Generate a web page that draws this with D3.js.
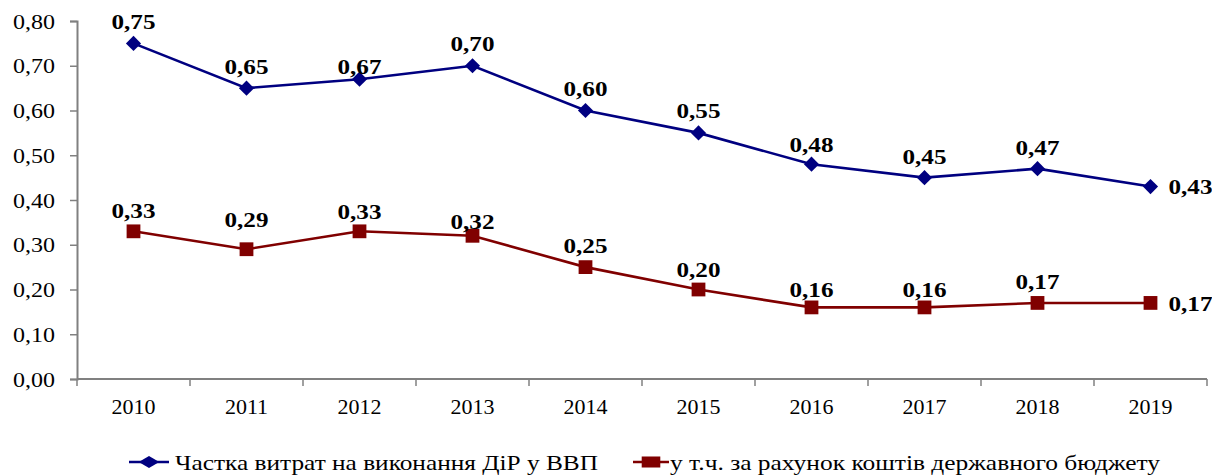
<!DOCTYPE html>
<html>
<head>
<meta charset="utf-8">
<script src="https://cdn.jsdelivr.net/npm/d3@7"></script>
<style>
  body { margin: 0; background: #fff; }
  svg text { font-family: "Liberation Serif", "Times New Roman", serif; }
</style>
</head>
<body>
<script>
// Data
const years = ['2010', '2011', '2012', '2013', '2014', '2015', '2016', '2017', '2018', '2019'];
const gdpShare = [0.75, 0.65, 0.67, 0.70, 0.60, 0.55, 0.48, 0.45, 0.47, 0.43];
const budgetShare = [0.33, 0.29, 0.33, 0.32, 0.25, 0.20, 0.16, 0.16, 0.17, 0.17];
const yTicks = [0, 0.1, 0.2, 0.3, 0.4, 0.5, 0.6, 0.7, 0.8];
const seriesNames = ['Частка витрат на виконання ДіР у ВВП', 'у т.ч. за рахунок коштів державного бюджету'];

// label offsets above points (as placed in the original)
const gdpLabelDy = [-22, -22, -13, -22, -22, -23, -20, -21, -21, 0];
const budgetLabelDy = [-21, -30, -20, -15, -22, -20, -18, -18, -22, 0];

const width = 1212;
const height = 475;
const margin = { top: 21, right: 5, bottom: 96, left: 77 };
const innerWidth = width - margin.left - margin.right;
const innerHeight = height - margin.top - margin.bottom;

const fmt = v => v.toFixed(2).replace('.', ',');

const svg = d3.select('body')
    .append('svg')
    .attr('width', width)
    .attr('height', height);

const g = svg.append('g')
    .attr('transform', `translate(${margin.left}, ${margin.top})`);

// Scales
const xScale = d3.scaleBand()
    .domain(years)
    .range([0, innerWidth]);

const yScale = d3.scaleLinear()
    .domain([0, 0.8])
    .range([innerHeight, 0]);

// Axes
const yAxis = g.append('g')
    .call(d3.axisLeft(yScale).tickValues(yTicks).tickFormat(fmt).tickSize(7).tickPadding(15));
yAxis.selectAll('text')
    .style('font-size', '22px')
    .attr('fill', '#000')
    .attr('textLength', 42)
    .attr('lengthAdjust', 'spacingAndGlyphs');

const xAxis = g.append('g')
    .attr('transform', `translate(0, ${innerHeight})`)
    .call(d3.axisBottom(xScale).tickSize(0).tickPadding(28));
xAxis.selectAll('text')
    .style('font-size', '22px')
    .attr('fill', '#000')
    .attr('dy', '0.3em')
    .attr('y', 28);

// Category boundary ticks on the x axis
xAxis.selectAll('line.bound')
    .data(years.concat(['end']))
    .enter()
    .append('line')
    .attr('class', 'bound')
    .attr('x1', (d, i) => i * xScale.step())
    .attr('x2', (d, i) => i * xScale.step())
    .attr('y1', 0)
    .attr('y2', 7)
    .attr('stroke', '#808080')
    .attr('stroke-width', 1.5);

svg.selectAll('.domain').attr('stroke', '#808080').attr('stroke-width', 2);
svg.selectAll('.tick line').attr('stroke', '#808080').attr('stroke-width', 1.5);
xAxis.select('.domain').attr('d', `M0,0H${innerWidth}`);

const cx = d => xScale(d) + xScale.bandwidth() / 2;

const diamond = d3.symbol().type(d3.symbolSquare).size(115);
const square = d3.symbol().type(d3.symbolSquare).size(190);

const series = [
    { values: gdpShare, dy: gdpLabelDy, color: '#000080', path: diamond, rot: 45 },
    { values: budgetShare, dy: budgetLabelDy, color: '#800000', path: square, rot: 0 }
];

const line = d3.line()
    .x((d, i) => cx(years[i]))
    .y(d => yScale(d));

const last = years.length - 1;

series.forEach(s => {
    g.append('path')
        .datum(s.values)
        .attr('fill', 'none')
        .attr('stroke', s.color)
        .attr('stroke-width', 2.6)
        .attr('d', line);

    g.selectAll(null)
        .data(s.values)
        .enter()
        .append('path')
        .attr('transform', (d, i) => `translate(${cx(years[i])}, ${yScale(d)}) rotate(${s.rot})`)
        .attr('d', s.path)
        .attr('fill', s.color);

    g.selectAll(null)
        .data(s.values)
        .enter()
        .append('text')
        .attr('x', (d, i) => i === last ? cx(years[i]) + 18 : cx(years[i]) - 22)
        .attr('y', (d, i) => yScale(d) + s.dy[i])
        .attr('dy', '0.35em')
        .attr('textLength', 44)
        .attr('lengthAdjust', 'spacingAndGlyphs')
        .style('font-size', '22px')
        .style('font-weight', 'bold')
        .text(d => fmt(d));
});

// Legend
const legend = svg.append('g').attr('transform', 'translate(0, 462)');
const legendItems = [
    { x: 129, len: 40, textX: 175, textLen: 423 },
    { x: 633, len: 36, textX: 670, textLen: 490 }
];
legendItems.forEach((item, k) => {
    const s = series[k];
    legend.append('line')
        .attr('x1', item.x).attr('x2', item.x + item.len)
        .attr('y1', 0).attr('y2', 0)
        .attr('stroke', s.color).attr('stroke-width', 2.6);
    legend.append('path')
        .attr('transform', `translate(${item.x + item.len / 2}, 0) scale(1.35, 0.8) rotate(${s.rot})`)
        .attr('d', s.path)
        .attr('fill', s.color);
    legend.append('text')
        .attr('x', item.textX)
        .attr('y', 0)
        .attr('dy', '0.35em')
        .attr('textLength', item.textLen)
        .attr('lengthAdjust', 'spacingAndGlyphs')
        .style('font-size', '22px')
        .text(seriesNames[k]);
});
</script>
</body>
</html>
